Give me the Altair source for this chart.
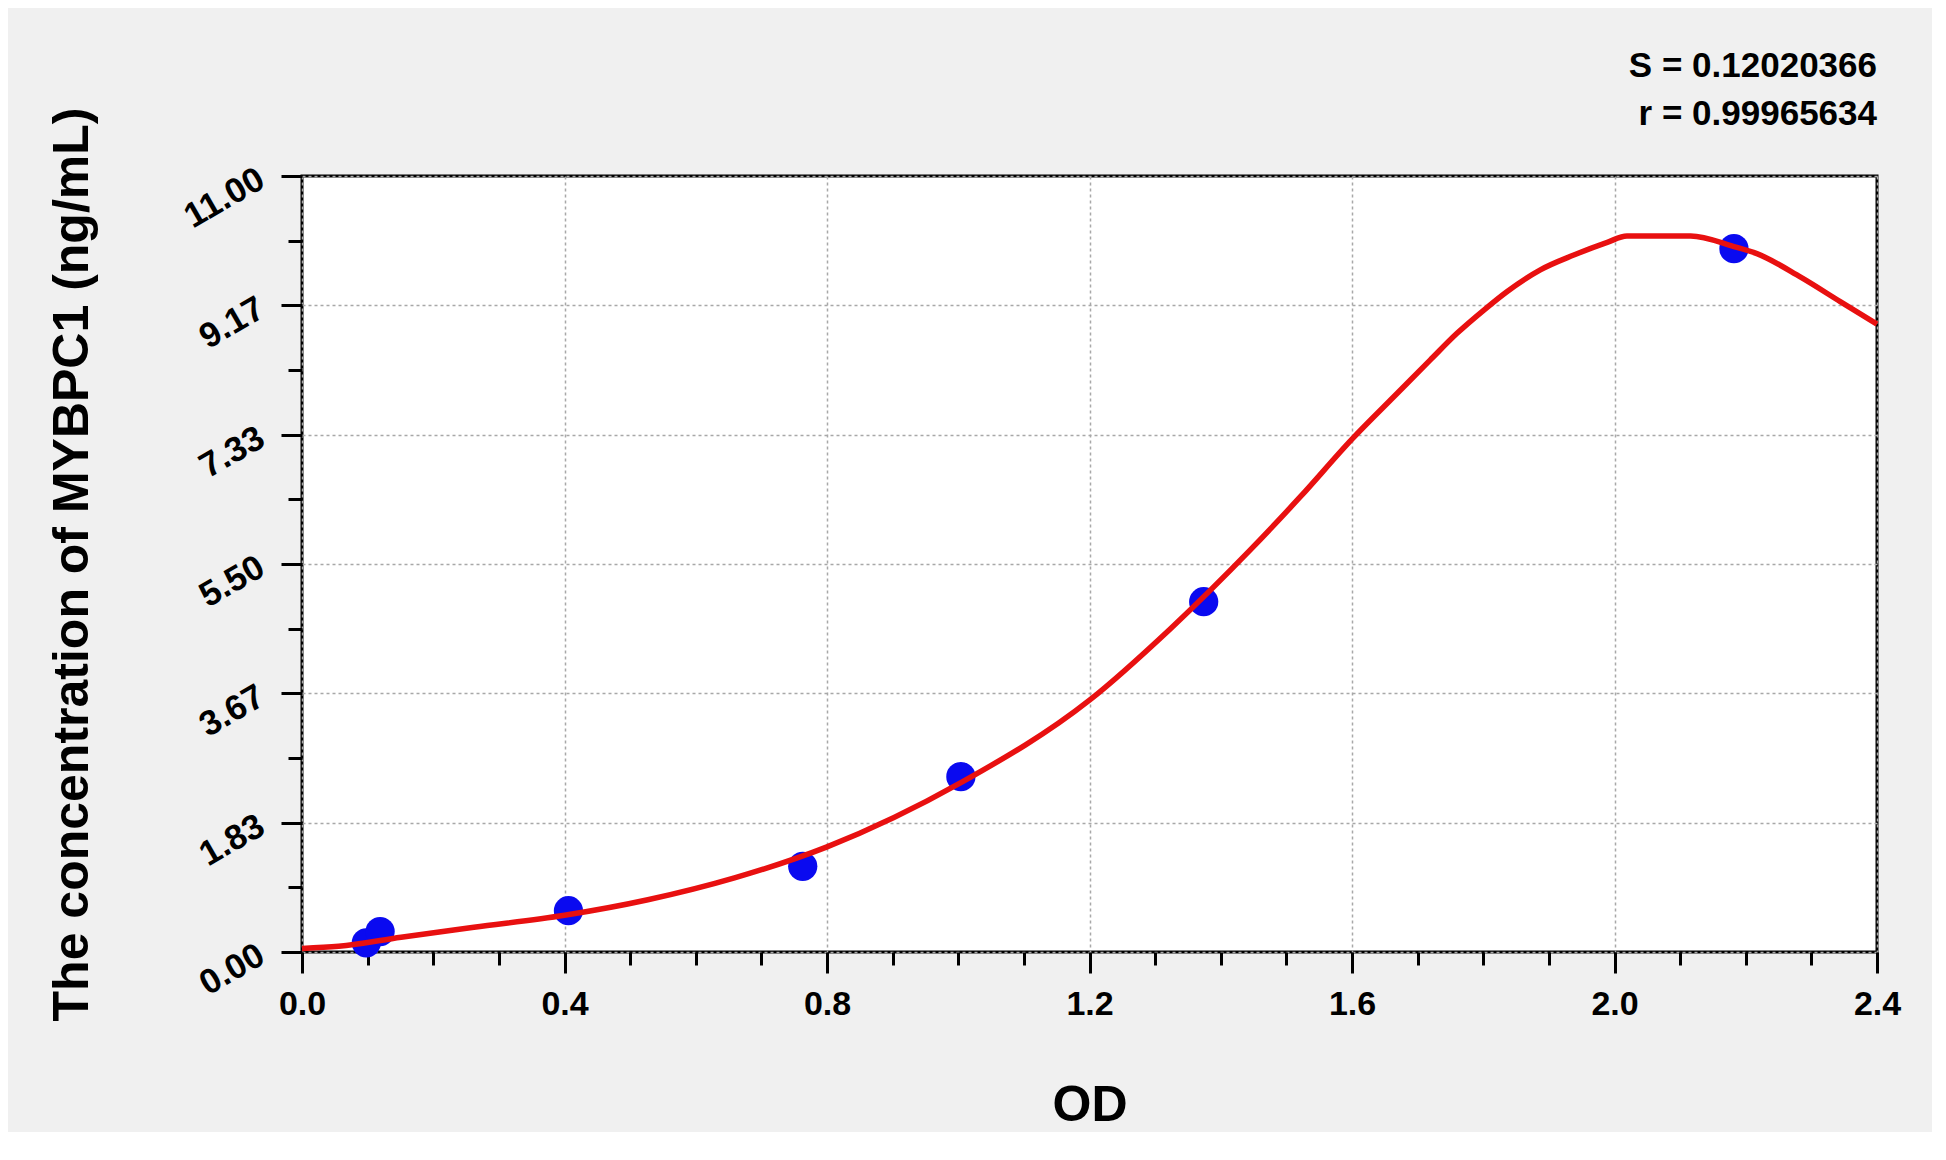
import altair as alt
import pandas as pd

# Standard points (OD vs concentration)
pt_od = [0.098, 0.119, 0.406, 0.763, 1.004, 1.374, 2.182]
pt_conc = [0.13, 0.29, 0.585, 1.215, 2.485, 4.965, 9.97]

# Fitted curve
curve_od = [0.0, 0.056, 0.151, 0.262, 0.4, 0.527, 0.659, 0.8, 1.004, 1.2, 1.323,
            1.445, 1.521, 1.6, 1.669, 1.719, 1.76, 1.801, 1.836, 1.887, 1.938,
            1.989, 2.019, 2.116, 2.182, 2.217, 2.283, 2.344, 2.4]
curve_conc = [0.05, 0.08, 0.21, 0.35, 0.52, 0.74, 1.05, 1.49, 2.40, 3.57, 4.58,
              5.70, 6.45, 7.27, 7.92, 8.39, 8.77, 9.10, 9.36, 9.67, 9.88,
              10.06, 10.15, 10.15, 10.0, 9.90, 9.57, 9.22, 8.90]

stats_lines = ["S = 0.12020366", "r = 0.99965634"]

x_ticks = [0.0, 0.1, 0.2, 0.3, 0.4, 0.5, 0.6, 0.7, 0.8, 0.9, 1.0, 1.1, 1.2,
           1.3, 1.4, 1.5, 1.6, 1.7, 1.8, 1.9, 2.0, 2.1, 2.2, 2.3, 2.4]
y_ticks = [i * 11 / 24 for i in range(25)]

FONT = "Liberation Sans, Arial, sans-serif"
W, H = 1575, 776

pts = pd.DataFrame({"od": pt_od, "conc": pt_conc})
crv = pd.DataFrame({"od": curve_od, "conc": curve_conc})

x_major = "round(datum.value*10) % 4 == 0"
y_major = "round(datum.value*24/11) % 4 == 0"

x_scale = alt.Scale(domain=[0, 2.4], nice=False, zero=False)
y_scale = alt.Scale(domain=[0, 11], nice=False, zero=False)

x_axis = alt.Axis(
    title="OD", values=x_ticks,
    labelExpr=f"{x_major} ? format(datum.value, '.1f') : ''",
    labelFont=FONT, labelFontSize=34, labelFontWeight="bold", labelColor="black",
    labelPadding=14, labelFlush=False, labelOverlap=False,
    tickSize={"condition": {"test": x_major, "value": 21}, "value": 13},
    tickWidth=3, tickColor="black",
    grid=True, gridColor="#a8a8a8", gridDash=[3, 3], gridWidth=1.5,
    gridOpacity={"condition": {"test": x_major, "value": 1}, "value": 0},
    domain=False,
    titleFont=FONT, titleFontSize=50, titleFontWeight="bold", titleColor="black",
    titleBaseline="alphabetic", titleY=168,
)
y_axis = alt.Axis(
    title="The concentration of MYBPC1 (ng/mL)", values=y_ticks,
    labelExpr=f"{y_major} ? format(datum.value, '.2f') : ''",
    labelFont=FONT, labelFontSize=35, labelFontWeight="bold", labelColor="black",
    labelAngle=330, labelAlign="right", labelBaseline="middle",
    labelPadding=20, labelFlush=False, labelOverlap=False,
    tickSize={"condition": {"test": y_major, "value": 21}, "value": 14},
    tickWidth=3, tickColor="black",
    grid=True, gridColor="#a8a8a8", gridDash=[3, 3], gridWidth=1.5,
    gridOpacity={"condition": {"test": y_major, "value": 1}, "value": 0},
    domain=False,
    titleFont=FONT, titleFontSize=50, titleFontWeight="bold", titleColor="black",
    titleBaseline="alphabetic", titleX=-215, titleAngle=270,
)

points = alt.Chart(pts).mark_circle(size=855, color="#0a0af0", opacity=1).encode(
    x=alt.X("od:Q", scale=x_scale, axis=x_axis),
    y=alt.Y("conc:Q", scale=y_scale, axis=y_axis),
)
line = alt.Chart(crv).mark_line(color="#e81010", strokeWidth=5.5, interpolate="monotone").encode(
    x=alt.X("od:Q", scale=x_scale),
    y=alt.Y("conc:Q", scale=y_scale),
)

def stat_text(s, ypix):
    return alt.Chart(pd.DataFrame({"t": [s]})).mark_text(
        align="right", baseline="alphabetic", font=FONT, fontSize=35,
        fontWeight="bold", color="black",
    ).encode(text="t:N", x=alt.value(W), y=alt.value(ypix))

chart = alt.layer(
    points, line,
    stat_text(stats_lines[0], -99),
    stat_text(stats_lines[1], -51),
).properties(
    width=W, height=H,
    autosize=alt.AutoSizeParams(type="none"),
    padding={"left": 294, "top": 168, "right": 55, "bottom": 180},
).configure(background="#f0f0f0").configure_view(
    fill="white", stroke="black", strokeWidth=3
)

chart.save("out.html", embed_options={"renderer": "svg", "actions": False})
